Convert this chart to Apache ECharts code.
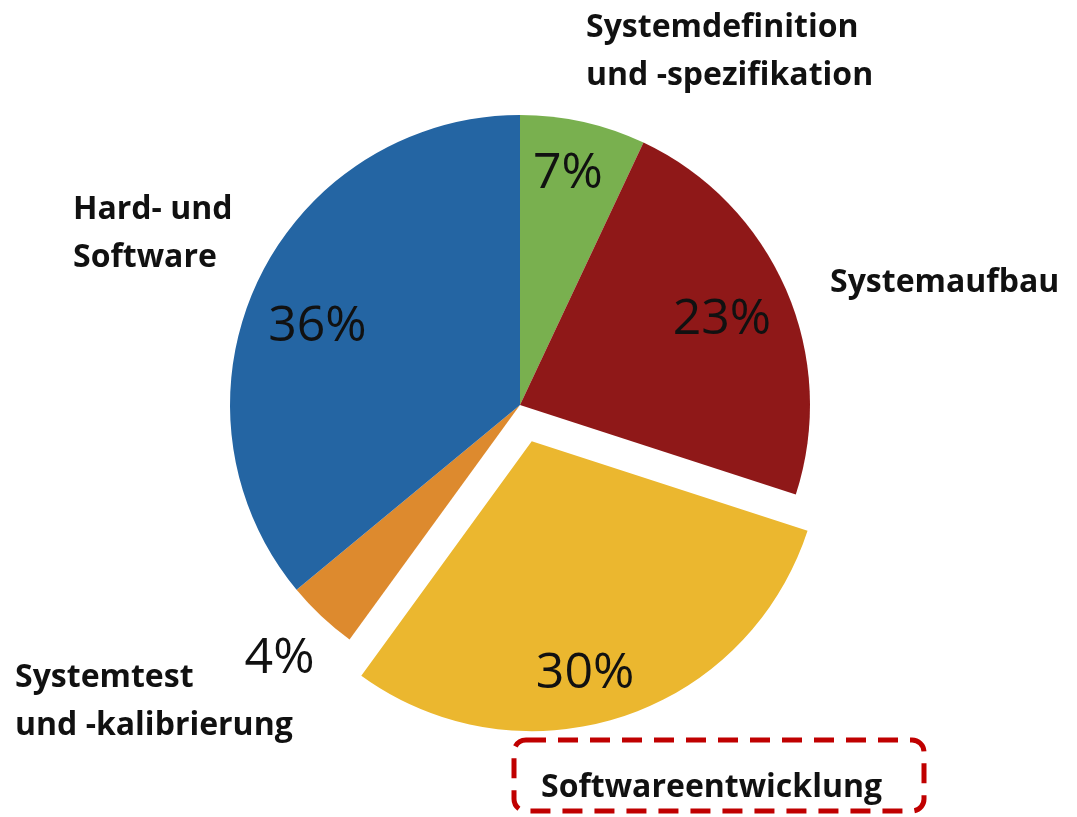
<!DOCTYPE html>
<html>
<head>
<meta charset="utf-8">
<script src="https://cdn.jsdelivr.net/npm/echarts@6/dist/echarts.min.js"></script>
<style>
  html, body { margin: 0; padding: 0; background: #fff; }
  #chart { width: 1077px; height: 817px; }
</style>
</head>
<body>
<div id="chart"></div>
<script>
// * Kreisdiagramm – Kostenanteile

const categories = ['Systemdefinition\nund -spezifikation', 'Systemaufbau', 'Softwareentwicklung', 'Systemtest\nund -kalibrierung', 'Hard- und\nSoftware']
const values = [7, 23, 30, 4, 36]
const colors = ['#79B04F', '#8F1818', '#EBB72F', '#DD8A2E', '#2465A3']
const highlighted = 'Softwareentwicklung'

// ? geometry of the pie
const cx = 520, cy = 405, R = 290, explode = 38
const total = values.reduce((a, b) => a + b, 0)
const hi = categories.indexOf(highlighted)

// mid angle (clockwise from 12 o'clock) of each slice
const midAngles = []
let acc = 0
values.forEach(v => {
  midAngles.push((acc + v / 2) / total * Math.PI * 2)
  acc += v
})

// label placement: distance from centre and small angle nudge (deg)
const labelDist = [238, 220, 237, 348, 218]
const labelNudge = [-1, 0, 5, 0.5, -3.5]

// where the names sit (left edge, top of first line)
const namePos = [[586, 4], [830, 259], [541, 764], [15, 654], [73, 186]]

// exploded slice is drawn by its own series, shifted along its mid angle
const shiftX = explode * Math.sin(midAngles[hi])
const shiftY = -explode * Math.cos(midAngles[hi])

const chart = echarts.init(document.getElementById('chart'))

function pieSeries (showIdx, center) {
  return {
    type: 'pie',
    center: center,
    radius: R,
    startAngle: 90,
    clockwise: true,
    silent: true,
    emphasis: { disabled: true },
    data: categories.map((name, i) => ({
      name: name,
      value: values[i],
      itemStyle: { color: showIdx(i) ? colors[i] : 'rgba(0,0,0,0)', borderWidth: 0 },
      label: { show: showIdx(i) }
    })),
    label: {
      position: 'inside',
      formatter: p => p.value + '%',
      fontFamily: 'Open Sans',
      fontSize: 50,
      color: '#111'
    },
    labelLine: { show: false },
    labelLayout: function (p) {
      const i = p.dataIndex
      const a = midAngles[i] + labelNudge[i] * Math.PI / 180
      const r = labelDist[i]
      return {
        x: center[0] + r * Math.sin(a),
        y: center[1] - r * Math.cos(a) + 2,
        align: 'center',
        verticalAlign: 'middle'
      }
    }
  }
}

const option = {
  animation: false,
  series: [
    pieSeries(i => i !== hi, [cx, cy]),
    pieSeries(i => i === hi, [cx + shiftX, cy + shiftY])
  ],
  graphic: categories.map((name, i) => ({
    type: 'text',
    x: namePos[i][0],
    y: namePos[i][1],
    style: {
      text: name,
      font: 'bold 32px "Open Sans"',
      fill: '#111',
      lineHeight: 48,
      textAlign: 'left',
      textVerticalAlign: 'top'
    }
  })).concat([
    {
      type: 'rect',
      shape: { x: 514, y: 740, width: 410, height: 71, r: 12 },
      style: { fill: 'none', stroke: '#C00000', lineWidth: 5, lineDash: [20, 12] }
    }
  ])
}

chart.setOption(option)
</script>
</body>
</html>
